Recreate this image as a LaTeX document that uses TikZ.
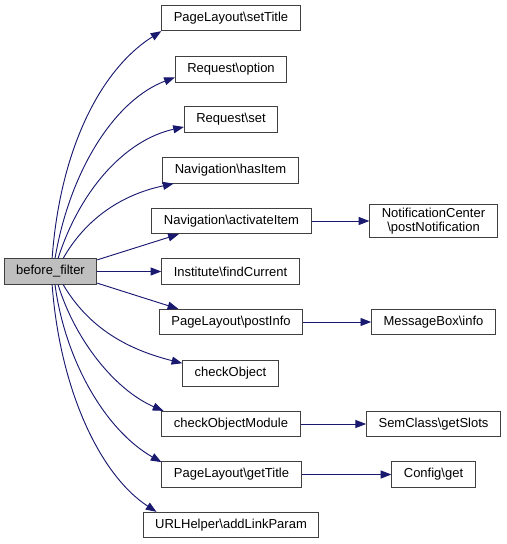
\documentclass[tikz,border=0pt]{standalone}
\usepackage{fontspec}
\setmainfont{Liberation Sans}
\usetikzlibrary{arrows.meta}

\definecolor{callblue}{HTML}{191970}
\tikzset{
  fnbox/.style={draw=black!75,fill=white,line width=0.7pt,
    inner xsep=9pt,inner ysep=2pt,minimum height=19pt,align=center,
    font=\fontsize{9.75pt}{11pt}\selectfont},
  rootbox/.style={fnbox,fill=black!25},
  call/.style={draw=callblue,line width=0.7pt,
    -{Triangle[length=8pt,width=6pt]}}
}

\begin{document}
\begin{tikzpicture}[x=0.75pt,y=-0.75pt]
  \useasboundingbox (0,0) rectangle (507,544);
  % Caller
  \node [rootbox] (bf) at (50.5,271.5) {before\_filter};
  % Direct callees
  \node [fnbox] (setTitle)    at (231,18)    {PageLayout\textbackslash setTitle};
  \node [fnbox] (option)      at (231,69.5)  {Request\textbackslash option};
  \node [fnbox] (set)         at (231,119.5) {Request\textbackslash set};
  \node [fnbox] (hasItem)     at (230.5,170.5) {Navigation\textbackslash hasItem};
  \node [fnbox] (activate)    at (231.5,221) {Navigation\textbackslash activateItem};
  \node [fnbox] (findCurrent) at (230.5,271.5) {Institute\textbackslash findCurrent};
  \node [fnbox] (postInfo)    at (231,322)   {PageLayout\textbackslash postInfo};
  \node [fnbox] (checkObj)    at (230.5,373.5) {checkObject};
  \node [fnbox] (checkMod)    at (231,424)   {checkObjectModule};
  \node [fnbox] (getTitle)    at (231.5,474.5) {PageLayout\textbackslash getTitle};
  \node [fnbox] (addLink)     at (231,525)   {URLHelper\textbackslash addLinkParam};
  % Second level
  \node [fnbox] (notify)   at (433.5,221)   {NotificationCenter\\\textbackslash postNotification};
  \node [fnbox] (msgBox)   at (433.5,322)   {MessageBox\textbackslash info};
  \node [fnbox] (getSlots) at (433.5,424)   {SemClass\textbackslash getSlots};
  \node [fnbox] (cfgGet)   at (433.5,474.5) {Config\textbackslash get};

  % Calls from before_filter
  \path [call] (bf.83) .. controls (60,150) and (100,70) .. (setTitle.south west);
  \path [call] (bf.71) .. controls (70,170) and (115,100) .. (option.188);
  \path [call] (bf.60) .. controls (80,190) and (125,140) .. (set.189);
  \path [call] (bf.46) .. controls (85,220) and (120,195) .. (hasItem.193);
  \path [call] (bf.14) -- (activate.194);
  \path [call] (bf) -- (findCurrent);
  \path [call] (bf.-14) -- (postInfo.166);
  \path [call] (bf.-46) .. controls (90,330) and (130,350) .. (checkObj.168);
  \path [call] (bf.-60) .. controls (75,340) and (115,390) .. (checkMod.169);
  \path [call] (bf.-71) .. controls (65,360) and (105,430) .. (getTitle.170);
  \path [call] (bf.-83) .. controls (60,390) and (100,475) .. (addLink.170);
  % Further calls
  \path [call] (activate) -- (notify);
  \path [call] (postInfo) -- (msgBox);
  \path [call] (checkMod) -- (getSlots);
  \path [call] (getTitle) -- (cfgGet);
\end{tikzpicture}
\end{document}
